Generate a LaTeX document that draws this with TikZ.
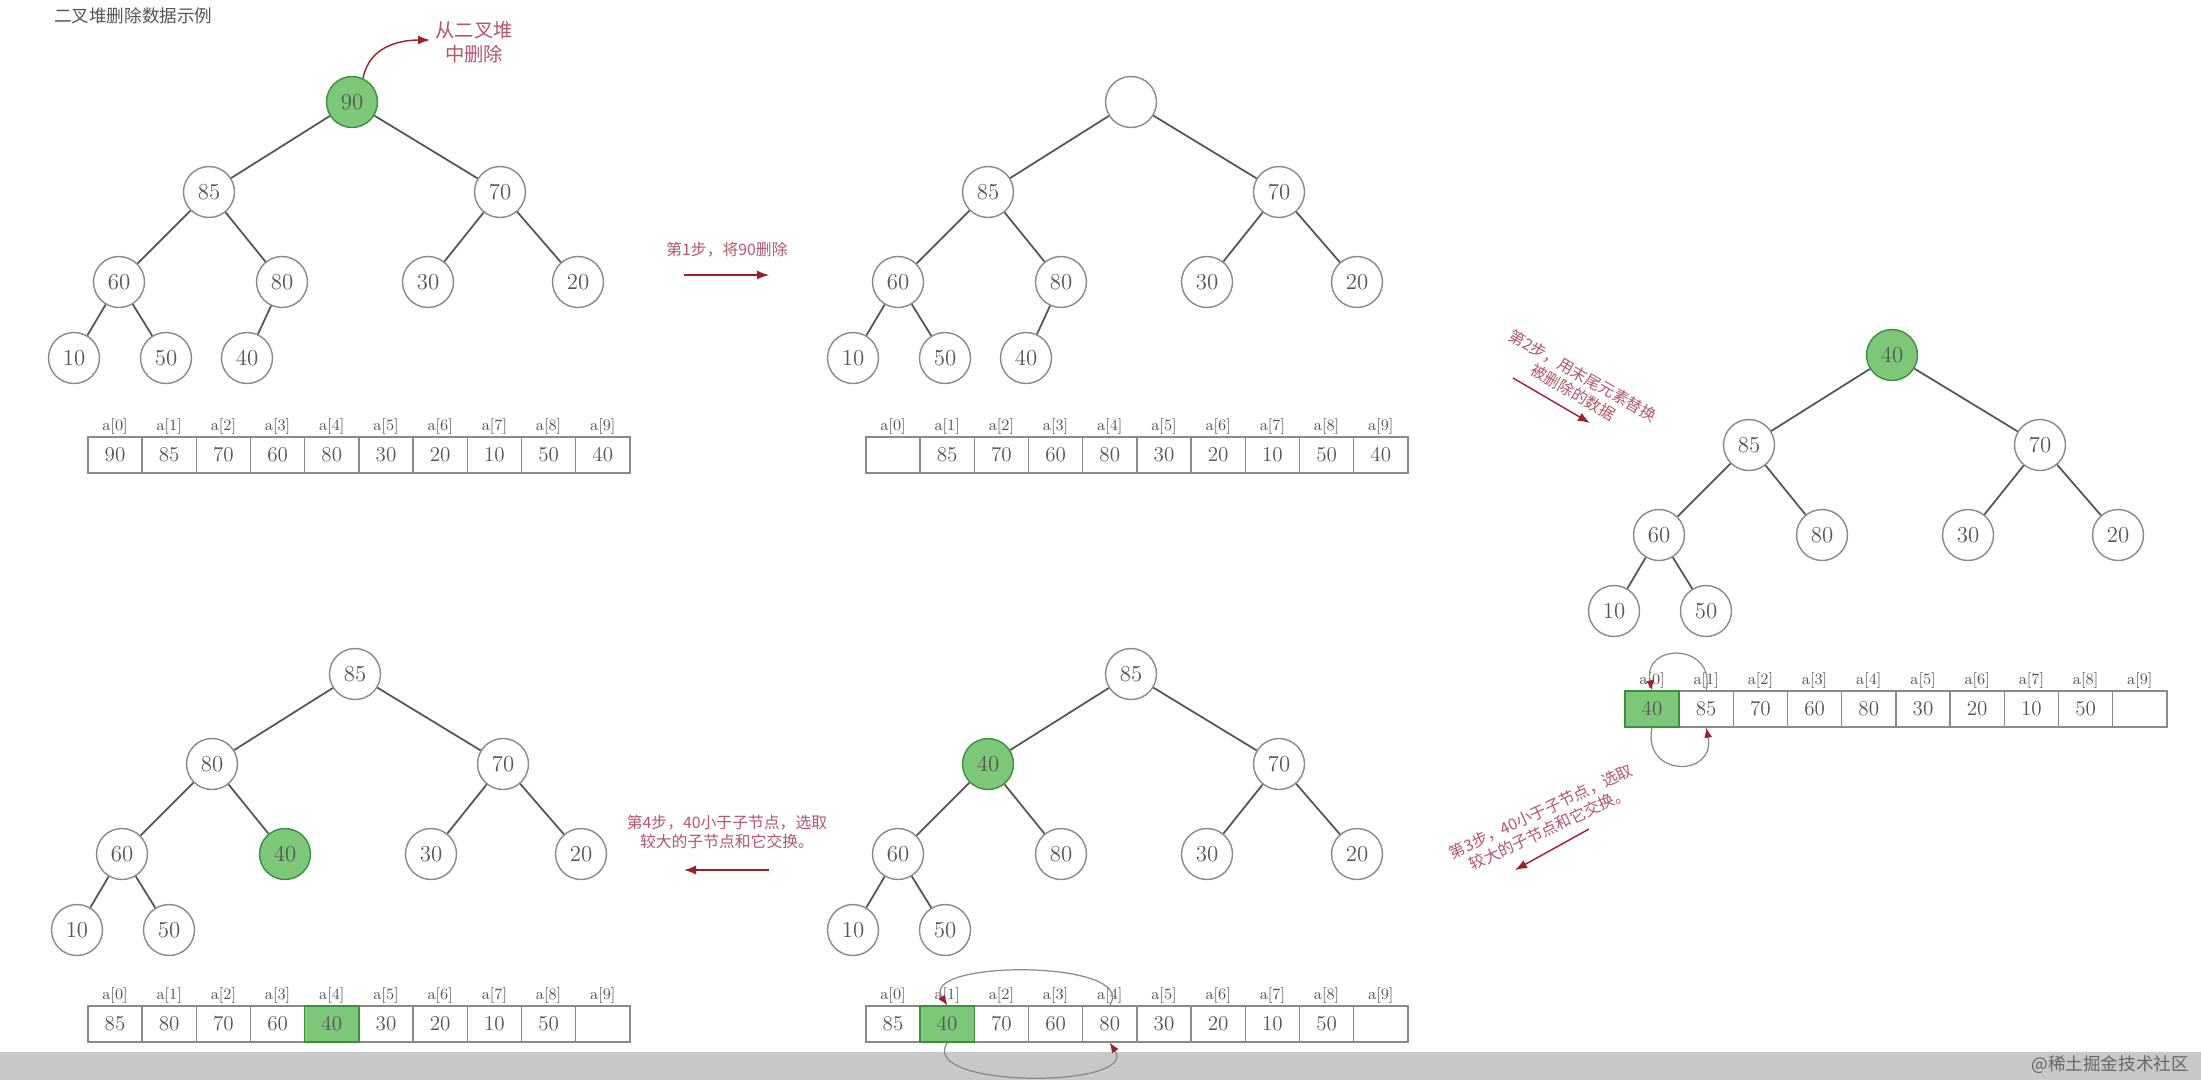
\documentclass[tikz,border=0pt]{standalone}
\usepackage{fontspec}
\newfontfamily\cjk{Noto Sans CJK SC}
\usetikzlibrary{arrows.meta,positioning}
\definecolor{Ink}{HTML}{555555}
\definecolor{Ring}{HTML}{8A8A8A}
\definecolor{Leaf}{HTML}{7CC878}
\definecolor{LeafEdge}{HTML}{3E8E3E}
\definecolor{Note}{HTML}{B5566A}
\definecolor{NoteArrow}{HTML}{A11D2E}
\definecolor{Bar}{HTML}{C8C8C8}

\begin{document}
\begin{tikzpicture}[x=0.02cm,y=-0.02cm,
  hnode/.style={circle,draw=Ring,line width=0.8pt,fill=white,minimum size=1.02cm,inner sep=0pt,text=Ink,font=\fontsize{13}{15}\selectfont},
  hot/.style={fill=Leaf,draw=LeafEdge},
  plain/.style={},
  edge/.style={draw=Ink,line width=1pt},
  cell/.style={draw=Ring,line width=0.8pt,fill=white,minimum width=1.084cm,minimum height=0.72cm,inner sep=0pt,text=Ink,font=\fontsize{12}{14}\selectfont},
  idx/.style={anchor=south,inner sep=1pt,text=Ink,font=\fontsize{9}{10}\selectfont},
  note/.style={text=Note,align=center,inner sep=1pt,font=\cjk\fontsize{9}{11}\selectfont},
  arrow/.style={-{Latex[length=2.4mm,width=1.8mm]},draw=NoteArrow,line width=0.8pt},
  swap/.style={draw=Ring,line width=0.7pt,-{Latex[length=2mm,width=1.6mm,color=NoteArrow]}}
]
\fill[white] (0,0) rectangle (2201,1080);
\useasboundingbox (0,0) rectangle (2201,1080);
\node[anchor=west,text=Ink,font=\cjk\fontsize{10}{12}\selectfont] (title) at (48,16) {二叉堆删除数据示例};

% tree 1: start
\begin{scope}[shift={(352,102)}]
\foreach \i/\x/\y/\v/\s in {1/0/0/90/hot,2/-143/90/85/plain,3/148/90/70/plain,4/-233/180/60/plain,5/-70/180/80/plain,6/76/180/30/plain,7/226/180/20/plain,8/-278/256/10/plain,9/-186/256/50/plain,10/-105/256/40/plain}
  \node[hnode,\s] (t1n\i) at (\x,\y) {\v};
\end{scope}
\foreach \a/\b in {1/2,1/3,2/4,2/5,3/6,3/7,4/8,4/9,5/10}
  \draw[edge] (t1n\a) -- (t1n\b);
\node[note,font=\cjk\fontsize{11}{13.5}\selectfont] (del) at (474,42) {从二叉堆\\中删除};
\coordinate (delin) at (430,40);
\draw[arrow] (t1n1.65) .. controls +(6,-32) and +(-30,0) .. (delin);

% tree 2: root removed
\begin{scope}[shift={(1131,102)}]
\foreach \i/\x/\y/\v/\s in {1/0/0//plain,2/-143/90/85/plain,3/148/90/70/plain,4/-233/180/60/plain,5/-70/180/80/plain,6/76/180/30/plain,7/226/180/20/plain,8/-278/256/10/plain,9/-186/256/50/plain,10/-105/256/40/plain}
  \node[hnode,\s] (t2n\i) at (\x,\y) {\v};
\end{scope}
\foreach \a/\b in {1/2,1/3,2/4,2/5,3/6,3/7,4/8,4/9,5/10}
  \draw[edge] (t2n\a) -- (t2n\b);

% tree 3: last element moved up
\begin{scope}[shift={(1892,355)}]
\foreach \i/\x/\y/\v/\s in {1/0/0/40/hot,2/-143/90/85/plain,3/148/90/70/plain,4/-233/180/60/plain,5/-70/180/80/plain,6/76/180/30/plain,7/226/180/20/plain,8/-278/256/10/plain,9/-186/256/50/plain}
  \node[hnode,\s] (t3n\i) at (\x,\y) {\v};
\end{scope}

% tree 4: first swap
\begin{scope}[shift={(1131,674)}]
\foreach \i/\x/\y/\v/\s in {1/0/0/85/plain,2/-143/90/40/hot,3/148/90/70/plain,4/-233/180/60/plain,5/-70/180/80/plain,6/76/180/30/plain,7/226/180/20/plain,8/-278/256/10/plain,9/-186/256/50/plain}
  \node[hnode,\s] (t4n\i) at (\x,\y) {\v};
\end{scope}

% tree 5: second swap
\begin{scope}[shift={(355,674)}]
\foreach \i/\x/\y/\v/\s in {1/0/0/85/plain,2/-143/90/80/plain,3/148/90/70/plain,4/-233/180/60/plain,5/-70/180/40/hot,6/76/180/30/plain,7/226/180/20/plain,8/-278/256/10/plain,9/-186/256/50/plain}
  \node[hnode,\s] (t5n\i) at (\x,\y) {\v};
\end{scope}
\foreach \t in {3,4,5}
  \foreach \a/\b in {1/2,1/3,2/4,2/5,3/6,3/7,4/8,4/9}
    \draw[edge] (t\t n\a) -- (t\t n\b);

% arrays
\begin{scope}[shift={(115,455)}]
\foreach \i/\v/\s in {0/90/plain,1/85/plain,2/70/plain,3/60/plain,4/80/plain,5/30/plain,6/20/plain,7/10/plain,8/50/plain,9/40/plain}
  \node[cell,\s] (a1c\i) at (\i*54.2,0) {\v};
\end{scope}
\begin{scope}[shift={(893,455)}]
\foreach \i/\v/\s in {0//plain,1/85/plain,2/70/plain,3/60/plain,4/80/plain,5/30/plain,6/20/plain,7/10/plain,8/50/plain,9/40/plain}
  \node[cell,\s] (a2c\i) at (\i*54.2,0) {\v};
\end{scope}
\begin{scope}[shift={(1652,709)}]
\foreach \i/\v/\s in {1/85/plain,2/70/plain,3/60/plain,4/80/plain,5/30/plain,6/20/plain,7/10/plain,8/50/plain,9//plain,0/40/hot}
  \node[cell,\s] (a3c\i) at (\i*54.2,0) {\v};
\end{scope}
\begin{scope}[shift={(893,1024)}]
\foreach \i/\v/\s in {0/85/plain,2/70/plain,3/60/plain,4/80/plain,5/30/plain,6/20/plain,7/10/plain,8/50/plain,9//plain,1/40/hot}
  \node[cell,\s] (a4c\i) at (\i*54.2,0) {\v};
\end{scope}
\begin{scope}[shift={(115,1024)}]
\foreach \i/\v/\s in {0/85/plain,1/80/plain,2/70/plain,3/60/plain,5/30/plain,6/20/plain,7/10/plain,8/50/plain,9//plain,4/40/hot}
  \node[cell,\s] (a5c\i) at (\i*54.2,0) {\v};
\end{scope}
\foreach \k in {1,...,5}
  \foreach \i in {0,...,9}
    \node[idx] (a\k l\i) at (a\k c\i.north) {a[\i]};

% step notes
\node[note] (s1) at (727,250) {第1步，将90删除};
\coordinate (s1a) at (684,275);
\coordinate (s1b) at (769,275);
\draw[arrow] (s1a) -- (s1b);

\node[note,rotate=-30] (s2) at (1578,384) {第2步，用末尾元素替换\\被删除的数据};
\coordinate (s2a) at (1513,378);
\coordinate (s2b) at (1590,423);
\draw[arrow] (s2a) -- (s2b);

\node[note,rotate=25] (s3) at (1545,820) {第3步，40小于子节点，选取\\较大的子节点和它交换。};
\coordinate (s3a) at (1589,829);
\coordinate (s3b) at (1515,870);
\draw[arrow] (s3a) -- (s3b);

\node[note] (s4) at (727,832) {第4步，40小于子节点，选取\\较大的子节点和它交换。};
\coordinate (s4a) at (769,870);
\coordinate (s4b) at (684,870);
\draw[arrow] (s4a) -- (s4b);

% bottom bar
\fill[Bar] (0,1052) rectangle (2201,1080);
\node[anchor=east,text=Ink!90,font=\cjk\fontsize{10}{12}\selectfont] (mark) at (2195,1065) {@稀土掘金技术社区};

% swaps in the arrays
\draw[swap] (a3c1.north) .. controls +(10,-48) and +(-10,-48) .. (a3c0.north);
\draw[swap] (a3c0.south) .. controls +(-10,50) and +(10,50) .. (a3c1.south);
\draw[swap] (a4c4.north) .. controls +(30,-46) and +(-30,-46) .. (a4c1.north);
\draw[swap] (a4c1.south) .. controls +(-30,46) and +(30,46) .. (a4c4.south);
\end{tikzpicture}
\end{document}
